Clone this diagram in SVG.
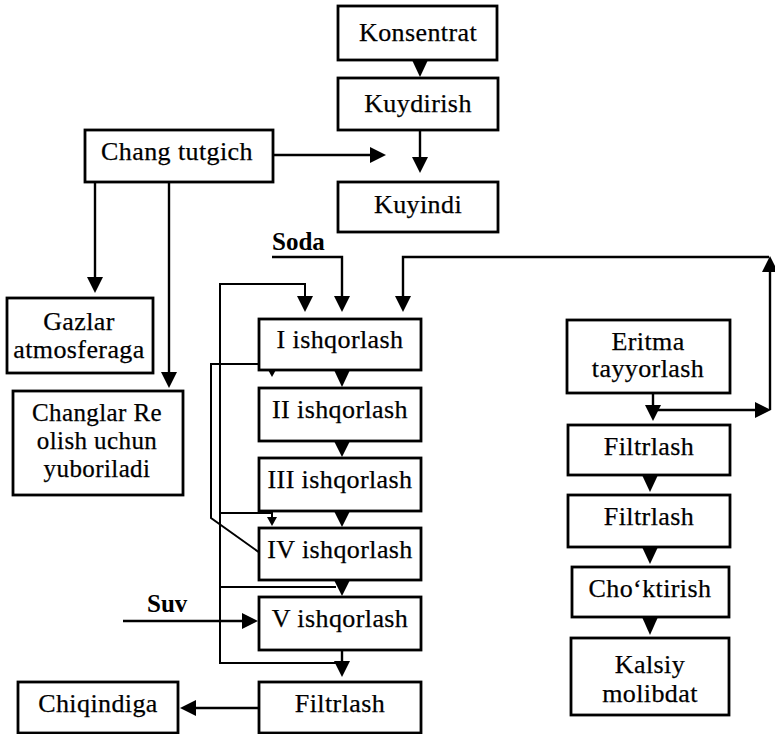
<svg xmlns="http://www.w3.org/2000/svg" width="775" height="734" viewBox="0 0 775 734">
<defs>
<style>
.box{fill:#fff;stroke:#000;stroke-width:2.8}
.t{font-family:"Liberation Serif","Times New Roman",serif;font-size:26px;letter-spacing:0.4px;text-anchor:middle;fill:#000;stroke:#000;stroke-width:0.25}
.s{font-size:25px}
.b{font-family:"Liberation Serif","Times New Roman",serif;font-size:25px;font-weight:bold;fill:#000}
.ln{fill:none;stroke:#000;stroke-width:2.4}
.thin{fill:none;stroke:#000;stroke-width:2}
.ah{fill:#000}
</style>
</defs>
<rect width="775" height="734" fill="#fff"/>
<g id="connectors">
<polygon class="ah" points="412,60 428,60 420,77"/>
<line class="ln" x1="420" y1="130" x2="420" y2="158"/>
<polygon class="ah" points="412,157 428,157 420,173"/>
<line class="ln" x1="273" y1="155" x2="372" y2="155"/>
<polygon class="ah" points="370,147 370,163 386,155"/>
<line class="ln" x1="95" y1="182" x2="95" y2="280"/>
<polygon class="ah" points="87,277 103,277 95,293"/>
<line class="ln" x1="169" y1="182" x2="169" y2="375"/>
<polygon class="ah" points="161,372 177,372 169,388"/>
<polygon class="ah" points="334,370 350,370 342,387"/>
<polygon class="ah" points="334,441 350,441 342,457"/>
<polygon class="ah" points="334,511 350,511 342,527"/>
<polygon class="ah" points="334,580 350,580 342,596"/>
<line class="ln" x1="342" y1="650" x2="342" y2="664"/>
<polygon class="ah" points="334,661 350,661 342,677"/>
<line class="ln" x1="259" y1="708" x2="194" y2="708"/>
<polygon class="ah" points="196,700 196,716 180,708"/>
<line class="ln" x1="123" y1="621" x2="244" y2="621"/>
<polygon class="ah" points="242,613 242,629 258,621"/>
<polyline class="ln" points="272,257 342,257 342,298"/>
<polygon class="ah" points="334,296 350,296 342,312"/>
<line class="ln" x1="653" y1="393" x2="653" y2="407"/>
<polygon class="ah" points="645,405 661,405 653,421"/>
<line class="ln" x1="653" y1="410" x2="757" y2="410"/>
<polygon class="ah" points="755,402 755,418 771,410"/>
<line class="ln" x1="770" y1="410" x2="770" y2="270"/>
<polygon class="ah" points="762,272 778,272 770,256"/>
<polyline class="ln" points="769,257 403,257 403,298"/>
<polygon class="ah" points="395,296 411,296 403,312"/>
<polyline class="thin" points="336,663 220,663 220,284 305,284 305,298"/>
<polygon class="ah" points="297,296 313,296 305,312"/>
<polyline class="thin" points="220,513 272,513 272,518"/>
<polygon class="ah" points="267,517 277,517 272,526"/>
<line class="thin" x1="220" y1="587" x2="336" y2="587"/>
<polyline class="thin" points="260,553 211,518 211,364 272,364 272,369"/>
<polygon class="ah" points="267,368 277,368 272,377"/>
<polygon class="ah" points="642,475 658,475 650,492"/>
<polygon class="ah" points="642,547 658,547 650,564"/>
<polygon class="ah" points="642,617 658,617 650,635"/>
</g>
<g id="n-konsentrat"><rect class="box" x="338" y="6" width="159" height="54"/><text class="t" x="418" y="41">Konsentrat</text></g>
<g id="n-kuydirish"><rect class="box" x="338" y="78" width="160" height="52"/><text class="t" x="418" y="112">Kuydirish</text></g>
<g id="n-kuyindi"><rect class="box" x="338" y="182" width="160" height="50"/><text class="t" x="418" y="213">Kuyindi</text></g>
<g id="n-chang"><rect class="box" x="85" y="130" width="188" height="52"/><text class="t" x="177" y="160">Chang tutgich</text></g>
<g id="n-gazlar"><rect class="box" x="7" y="298" width="146" height="75"/><text class="t" x="79" y="330">Gazlar</text><text class="t" x="79" y="358">atmosferaga</text></g>
<g id="n-changlar"><rect class="box" x="13" y="391" width="170" height="104"/><text class="t s" x="97" y="421">Changlar Re</text><text class="t s" x="97" y="449">olish uchun</text><text class="t s" x="97" y="477">yuboriladi</text></g>
<g id="n-i"><rect class="box" x="259" y="319" width="162" height="51"/><text class="t" x="340" y="348">I ishqorlash</text></g>
<g id="n-ii"><rect class="box" x="259" y="388" width="162" height="53"/><text class="t" x="340" y="418">II ishqorlash</text></g>
<g id="n-iii"><rect class="box" x="259" y="458" width="162" height="53"/><text class="t" x="340" y="488">III ishqorlash</text></g>
<g id="n-iv"><rect class="box" x="259" y="528" width="162" height="52"/><text class="t" x="340" y="558">IV ishqorlash</text></g>
<g id="n-v"><rect class="box" x="259" y="597" width="162" height="53"/><text class="t" x="340" y="627">V ishqorlash</text></g>
<g id="n-filtrlash"><rect class="box" x="259" y="682" width="162" height="51"/><text class="t" x="340" y="712">Filtrlash</text></g>
<g id="n-chiqindiga"><rect class="box" x="18" y="682" width="160" height="51"/><text class="t" x="98" y="712">Chiqindiga</text></g>
<g id="n-eritma"><rect class="box" x="567" y="320" width="163" height="73"/><text class="t" x="648" y="350">Eritma</text><text class="t" x="648" y="377">tayyorlash</text></g>
<g id="n-filtrlash-r1"><rect class="box" x="568" y="425" width="162" height="50"/><text class="t" x="649" y="455">Filtrlash</text></g>
<g id="n-filtrlash-r2"><rect class="box" x="568" y="495" width="162" height="52"/><text class="t" x="649" y="525">Filtrlash</text></g>
<g id="n-choktirish"><rect class="box" x="572" y="567" width="157" height="50"/><text class="t" x="650" y="597">Cho‘ktirish</text></g>
<g id="n-kalsiy"><rect class="box" x="571" y="638" width="158" height="77"/><text class="t" x="650" y="673">Kalsiy</text><text class="t" x="650" y="702">molibdat</text></g>
<g id="labels">
<text class="b" x="272" y="250">Soda</text>
<text class="b" x="147" y="612">Suv</text>
</g>
</svg>
